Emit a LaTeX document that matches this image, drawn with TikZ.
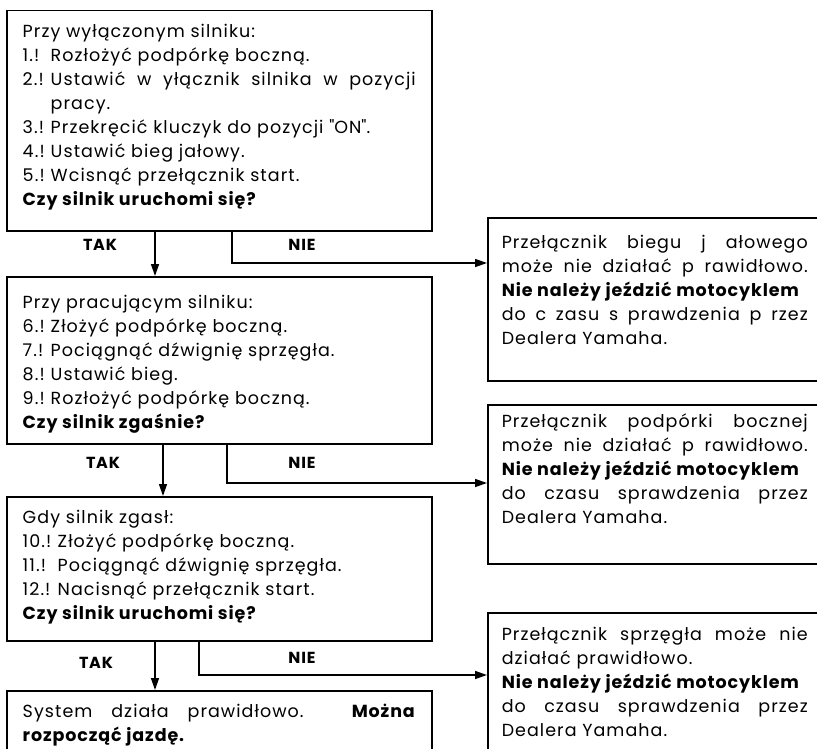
\documentclass[tikz,border=0pt]{standalone}
\usepackage{fontspec}
\setmainfont{Poppins}[LetterSpace=6, BoldFeatures={LetterSpace=5}]
\usetikzlibrary{arrows.meta}

\newcommand{\krok}[3][28pt]{\par\noindent\hangindent=#1\hangafter=1\makebox[#1][l]{#2}#3\par}
\newcommand{\opis}[2]{\begin{minipage}[t]{#1}\fontsize{17.5}{24}\selectfont #2\end{minipage}}

\begin{document}
\begin{tikzpicture}[x=1pt, y=-1pt, line width=1.5pt]
    \tikzstyle{ramka}=[draw, rectangle, inner sep=0pt, anchor=north west]
    \tikzstyle{tresc}=[inner sep=0pt, anchor=base west]
    \tikzstyle{odp}=[inner sep=0pt, font=\fontsize{16}{18}\selectfont\bfseries]
    \tikzstyle{strz}=[-{Triangle[length=12pt,width=8pt]}, line width=1.5pt]

    \useasboundingbox (0,0) rectangle (817,749);

    \node[ramka, minimum width=425pt, minimum height=220pt] (B1) at (6,10) {};
    \node[ramka, minimum width=425pt, minimum height=167pt] (B2) at (6,276) {};
    \node[ramka, minimum width=425pt, minimum height=144pt] (B3) at (6,496) {};
    \node[ramka, minimum width=425pt, minimum height=80pt] (B4) at (6,690) {};
    \node[ramka, minimum width=343pt, minimum height=163pt] (N1) at (487,217) {};
    \node[ramka, minimum width=343pt, minimum height=159pt] (N2) at (487,404) {};
    \node[ramka, minimum width=343pt, minimum height=158pt] (N3) at (487,612) {};

    \node[tresc] (T1) at (22,38) {\opis{393pt}{Przy wyłączonym silniku:\par
        \krok{1.!}{Rozłożyć podpórkę boczną.}
        \krok{2.!}{Ustawić w yłącznik silnika w pozycji\linebreak pracy.}
        \krok{3.!}{Przekręcić kluczyk do pozycji \textquotedbl ON\textquotedbl.}
        \krok{4.!}{Ustawić bieg jałowy.}
        \krok{5.!}{Wcisnąć przełącznik start.}
        \textbf{Czy silnik uruchomi się?}}};
    \node[tresc] (T2) at (22,308) {\opis{393pt}{Przy pracującym silniku:\par
        \krok{6.!}{Złożyć podpórkę boczną.}
        \krok{7.!}{Pociągnąć dźwignię sprzęgła.}
        \krok{8.!}{Ustawić bieg.}
        \krok{9.!}{Rozłożyć podpórkę boczną.}
        \textbf{Czy silnik zgaśnie?}}};
    \node[tresc] (T3) at (22,523) {\opis{393pt}{Gdy silnik zgasł:\par
        \krok[35pt]{10.!}{Złożyć podpórkę boczną.}
        \krok[35pt]{11.!}{Pociągnąć dźwignię sprzęgła.}
        \krok[35pt]{12.!}{Nacisnąć przełącznik start.}
        \textbf{Czy silnik uruchomi się?}}};
    \node[tresc] (T4) at (22,717) {\opis{393pt}{System działa prawidłowo. \textbf{Można}\linebreak
        \textbf{rozpocząć jazdę.}}};

    \node[tresc] (U1) at (501,248) {\opis{306pt}{Przełącznik biegu j ałowego\linebreak
        może nie działać p rawidłowo.\linebreak \mbox{\textbf{Nie należy jeździć motocyklem}}\linebreak
        do c zasu s prawdzenia p rzez\linebreak Dealera Yamaha.}};
    \node[tresc] (U2) at (501,427) {\opis{306pt}{Przełącznik podpórki bocznej\linebreak
        może nie działać p rawidłowo.\linebreak \mbox{\textbf{Nie należy jeździć motocyklem}}\linebreak
        do czasu sprawdzenia przez\linebreak Dealera Yamaha.}};
    \node[tresc] (U3) at (501,640) {\opis{306pt}{Przełącznik sprzęgła może nie\linebreak
        działać prawidłowo.\newline \mbox{\textbf{Nie należy jeździć motocyklem}}\linebreak
        do czasu sprawdzenia przez\linebreak Dealera Yamaha.}};

    \node[odp] (tak1) at (100,245) {TAK};
    \node[odp] (nie1) at (302,245) {NIE};
    \node[odp] (tak2) at (103,463) {TAK};
    \node[odp] (nie2) at (302,463) {NIE};
    \node[odp] (tak3) at (96,663) {TAK};
    \node[odp] (nie3) at (302,658) {NIE};

    \draw[strz] ([xshift=149pt]B1.south west) -- ([xshift=149pt]B2.north west);
    \draw[strz] ([xshift=226pt]B1.south west) |- ([yshift=-46pt]N1.north west);
    \draw[strz] ([xshift=157pt]B2.south west) -- ([xshift=157pt]B3.north west);
    \draw[strz] ([xshift=221pt]B2.south west) |- ([yshift=-79pt]N2.north west);
    \draw[strz] ([xshift=149pt]B3.south west) -- ([xshift=149pt]B4.north west);
    \draw[strz] ([xshift=193pt]B3.south west) |- ([yshift=-63pt]N3.north west);
\end{tikzpicture}
\end{document}
